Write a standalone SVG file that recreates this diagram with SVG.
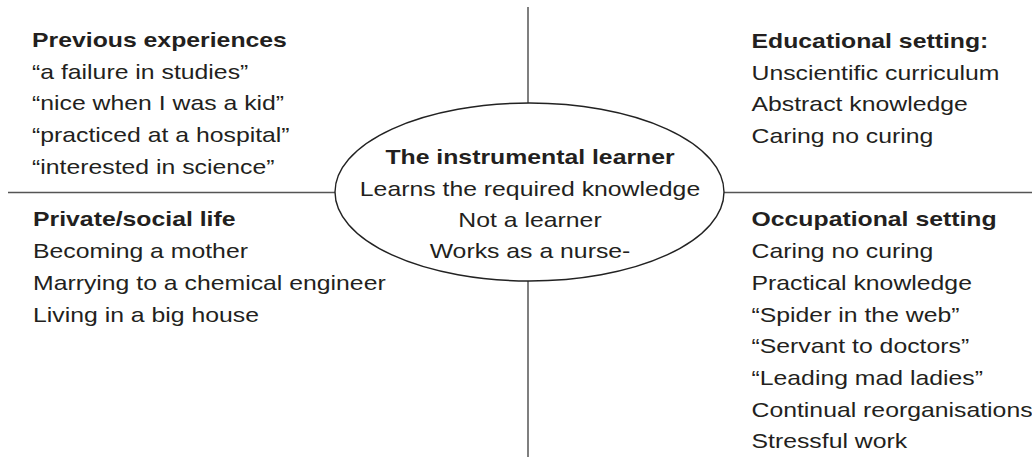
<svg xmlns="http://www.w3.org/2000/svg" width="1032" height="459" viewBox="0 0 1032 459">
  <style>
    text { font-family: "Liberation Sans", Arial, sans-serif; font-size: 20px; fill: #231f20; }
    .h { font-weight: bold; }
    .c { text-anchor: middle; }
    .axis { stroke: #555; stroke-width: 1.5; fill: none; }
    .oval { stroke: #222; stroke-width: 1.4; fill: #fff; }
  </style>
  <rect width="1032" height="459" fill="#fff"/>

  <!-- axes joining the quadrants to the central learner -->
  <g id="connectors">
    <line class="axis" x1="8" y1="192.5" x2="335" y2="192.5"/>
    <line class="axis" x1="724" y1="192.5" x2="1032" y2="192.5"/>
    <line class="axis" x1="528" y1="7" x2="528" y2="103"/>
    <line class="axis" x1="528" y1="281" x2="528" y2="457"/>
  </g>

  <!-- central learner -->
  <g id="instrumental-learner">
    <ellipse class="oval" cx="529.5" cy="192" rx="194.5" ry="89"/>
    <g transform="translate(530,0) scale(1.24,1)">
      <text class="h c" x="0" y="164">The instrumental learner</text>
      <text class="c" x="0" y="196">Learns the required knowledge</text>
      <text class="c" x="0" y="227">Not a learner</text>
      <text class="c" x="0" y="258">Works as a nurse-</text>
    </g>
  </g>

  <!-- top left quadrant -->
  <g id="previous-experiences" transform="translate(32,0) scale(1.24,1)">
    <text class="h" x="0" y="47">Previous experiences</text>
    <text x="0" y="79">“a failure in studies”</text>
    <text x="0" y="110.5">“nice when I was a kid”</text>
    <text x="0" y="142">“practiced at a hospital”</text>
    <text x="0" y="174">“interested in science”</text>
  </g>

  <!-- top right quadrant -->
  <g id="educational-setting" transform="translate(751.5,0) scale(1.24,1)">
    <text class="h" x="0" y="48">Educational setting:</text>
    <text x="0" y="80">Unscientific curriculum</text>
    <text x="0" y="111.5">Abstract knowledge</text>
    <text x="0" y="143">Caring no curing</text>
  </g>

  <!-- bottom left quadrant -->
  <g id="private-social-life" transform="translate(33,0) scale(1.24,1)">
    <text class="h" x="0" y="226">Private/social life</text>
    <text x="0" y="258.5">Becoming a mother</text>
    <text x="0" y="290.5">Marrying to a chemical engineer</text>
    <text x="0" y="322">Living in a big house</text>
  </g>

  <!-- bottom right quadrant -->
  <g id="occupational-setting" transform="translate(751.5,0) scale(1.24,1)">
    <text class="h" x="0" y="226">Occupational setting</text>
    <text x="0" y="258">Caring no curing</text>
    <text x="0" y="290">Practical knowledge</text>
    <text x="0" y="321.7">“Spider in the web”</text>
    <text x="0" y="353.3">“Servant to doctors”</text>
    <text x="0" y="385">“Leading mad ladies”</text>
    <text x="0" y="416.7">Continual reorganisations</text>
    <text x="0" y="448.3">Stressful work</text>
  </g>
</svg>
